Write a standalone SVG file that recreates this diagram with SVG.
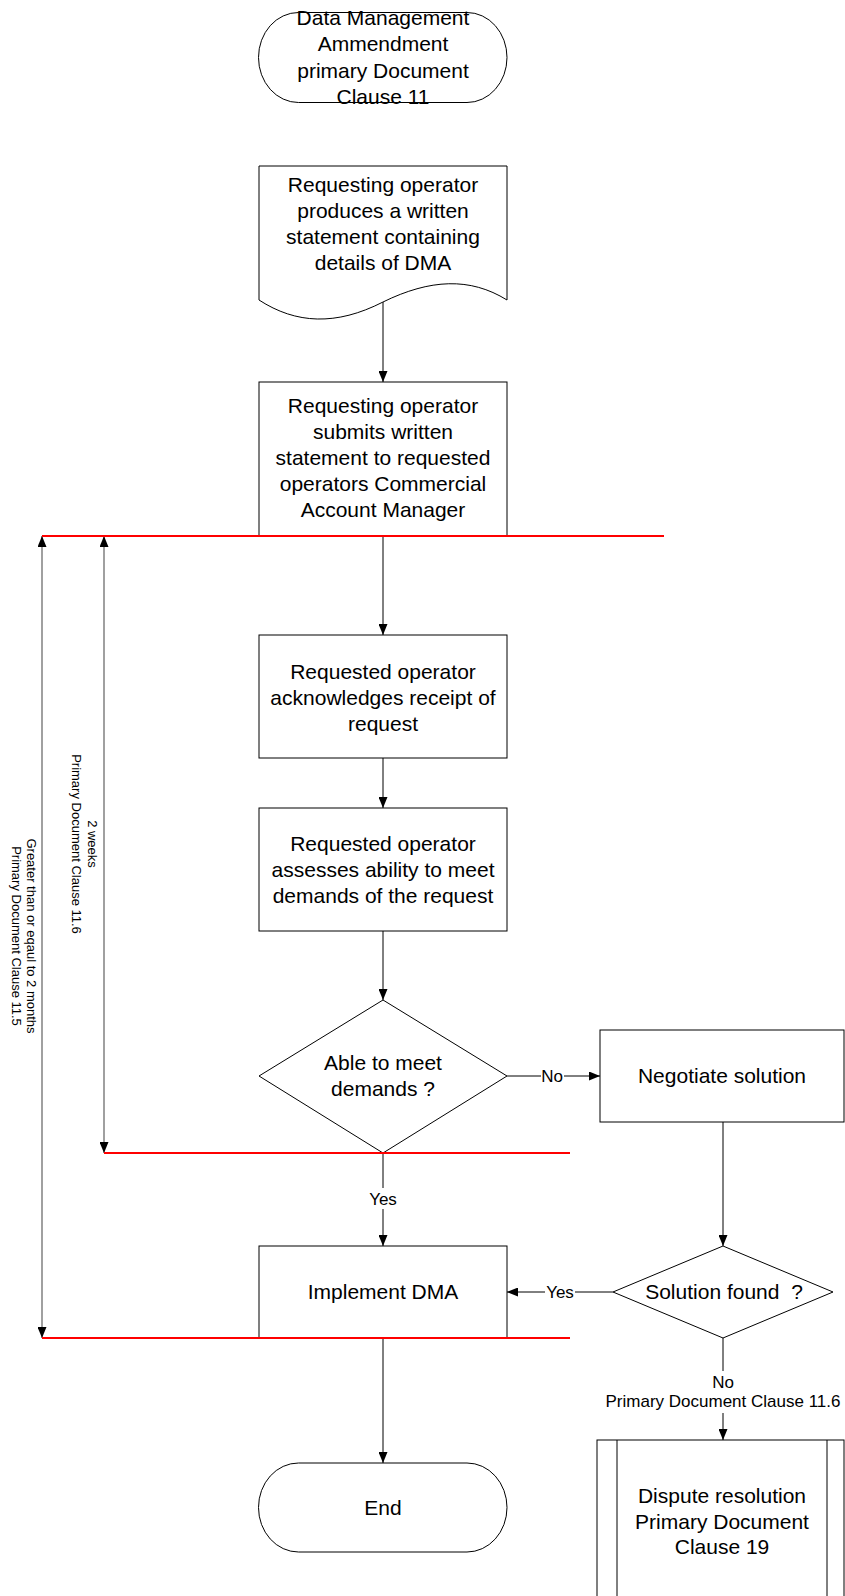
<svg xmlns="http://www.w3.org/2000/svg" width="845" height="1596" viewBox="0 0 845 1596">
<defs>
<marker id="arr" markerWidth="11" markerHeight="9" refX="11" refY="4.5" orient="auto" markerUnits="userSpaceOnUse"><path d="M0,0 L11,4.5 L0,9 Z" fill="#000"/></marker>
<marker id="arrd" markerWidth="11" markerHeight="9" refX="11" refY="4.5" orient="auto-start-reverse" markerUnits="userSpaceOnUse"><path d="M0,0 L11,4.5 L0,9 Z" fill="#000"/></marker>
</defs>
<style>
.shape{fill:#fff;stroke:#000;stroke-width:1}
.t{font-family:"Liberation Sans",Arial,sans-serif;font-size:21px;fill:#000;text-anchor:middle}
.lbl{font-size:17px}
.v{font-size:13px}
.conn{fill:none;stroke:#000;stroke-width:1}
.dim{fill:none;stroke:#808080;stroke-width:1.5}
.red{stroke:#ff0000;stroke-width:2}
.bg{fill:#fff;stroke:none}
</style>
<rect width="845" height="1596" fill="#fff"/>

<g id="connectors">
<line class="conn" x1="383" y1="302" x2="383" y2="382" marker-end="url(#arr)"/>
<line class="conn" x1="383" y1="536" x2="383" y2="635" marker-end="url(#arr)"/>
<line class="conn" x1="383" y1="758" x2="383" y2="808" marker-end="url(#arr)"/>
<line class="conn" x1="383" y1="931" x2="383" y2="1000" marker-end="url(#arr)"/>
<line class="conn" x1="507" y1="1076" x2="600" y2="1076" marker-end="url(#arr)"/>
<line class="conn" x1="383" y1="1153" x2="383" y2="1246" marker-end="url(#arr)"/>
<line class="conn" x1="723" y1="1122" x2="723" y2="1246" marker-end="url(#arr)"/>
<line class="conn" x1="613" y1="1292" x2="507" y2="1292" marker-end="url(#arr)"/>
<line class="conn" x1="723" y1="1338" x2="723" y2="1440" marker-end="url(#arr)"/>
<line class="conn" x1="383" y1="1338" x2="383" y2="1463" marker-end="url(#arr)"/>
<line class="dim" x1="42" y1="536" x2="42" y2="1338" marker-start="url(#arrd)" marker-end="url(#arrd)"/>
<line class="dim" x1="104" y1="536" x2="104" y2="1153" marker-start="url(#arrd)" marker-end="url(#arrd)"/>
<rect class="bg" x="541" y="1066" width="23" height="20"/>
<text class="t lbl" x="552" y="1082">No</text>
<rect class="bg" x="369" y="1188" width="29" height="21"/>
<text class="t lbl" x="383" y="1205">Yes</text>
<rect class="bg" x="545" y="1282" width="30" height="20"/>
<text class="t lbl" x="560" y="1298">Yes</text>
<rect class="bg" x="604" y="1371" width="238" height="42"/>
<text class="t lbl" x="723" y="1388">No</text>
<text class="t lbl" x="723" y="1407">Primary Document Clause 11.6</text>
</g>

<g id="start">
<rect class="shape" x="258.5" y="12.5" width="248.5" height="90" rx="40" ry="45"/>
<text class="t"><tspan x="383" y="25">Data Management</tspan><tspan x="383" y="51">Ammendment</tspan><tspan x="383" y="78">primary Document</tspan><tspan x="383" y="104">Clause 11</tspan></text>
</g>

<g id="produce">
<path class="shape" d="M259,166 L507,166 L507,300 C470,277 430,279 383,302 C336,326 296,324 259,300 Z"/>
<text class="t"><tspan x="383" y="192">Requesting operator</tspan><tspan x="383" y="218">produces a written</tspan><tspan x="383" y="244">statement containing</tspan><tspan x="383" y="270">details of DMA</tspan></text>
</g>

<g id="submit">
<rect class="shape" x="259" y="382" width="248" height="154"/>
<text class="t"><tspan x="383" y="413">Requesting operator</tspan><tspan x="383" y="439">submits written</tspan><tspan x="383" y="465">statement to requested</tspan><tspan x="383" y="491">operators Commercial</tspan><tspan x="383" y="517">Account Manager</tspan></text>
</g>

<g id="acknowledge">
<rect class="shape" x="259" y="635" width="248" height="123"/>
<text class="t"><tspan x="383" y="679">Requested operator</tspan><tspan x="383" y="705">acknowledges receipt of</tspan><tspan x="383" y="731">request</tspan></text>
</g>

<g id="assess">
<rect class="shape" x="259" y="808" width="248" height="123"/>
<text class="t"><tspan x="383" y="851">Requested operator</tspan><tspan x="383" y="877">assesses ability to meet</tspan><tspan x="383" y="903">demands of the request</tspan></text>
</g>

<g id="able">
<polygon class="shape" points="383,1000 507,1076 383,1153 259,1076"/>
<text class="t"><tspan x="383" y="1070">Able to meet</tspan><tspan x="383" y="1096">demands ?</tspan></text>
</g>

<g id="negotiate">
<rect class="shape" x="600" y="1030" width="244" height="92"/>
<text class="t" x="722" y="1083">Negotiate solution</text>
</g>

<g id="implement">
<rect class="shape" x="259" y="1246" width="248" height="92"/>
<text class="t" x="383" y="1299">Implement DMA</text>
</g>

<g id="found">
<polygon class="shape" points="723,1246 833,1292 723,1338 613,1292"/>
<text class="t" x="724" y="1299" xml:space="preserve">Solution found  ?</text>
</g>

<g id="end">
<rect class="shape" x="258.5" y="1463" width="248.5" height="89" rx="40" ry="44.5"/>
<text class="t" x="383" y="1515">End</text>
</g>

<g id="dispute">
<rect class="shape" x="597" y="1440" width="247" height="166"/>
<line class="conn" x1="617" y1="1440" x2="617" y2="1596"/>
<line class="conn" x1="827" y1="1440" x2="827" y2="1596"/>
<text class="t"><tspan x="722" y="1503">Dispute resolution</tspan><tspan x="722" y="1529">Primary Document</tspan><tspan x="722" y="1554">Clause 19</tspan></text>
</g>

<g id="timelines">
<line class="red" x1="42" y1="536" x2="664" y2="536"/>
<line class="red" x1="104" y1="1153" x2="570" y2="1153"/>
<line class="red" x1="42" y1="1338" x2="570" y2="1338"/>
<text class="t v" transform="rotate(90)"><tspan x="844" y="-88">2 weeks</tspan><tspan x="844" y="-72">Primary Document Clause 11.6</tspan></text>
<text class="t v" transform="rotate(90)"><tspan x="936" y="-27">Greater than or eqaul to 2 months</tspan><tspan x="936" y="-12">Primary Document Clause 11.5</tspan></text>
</g>
</svg>
